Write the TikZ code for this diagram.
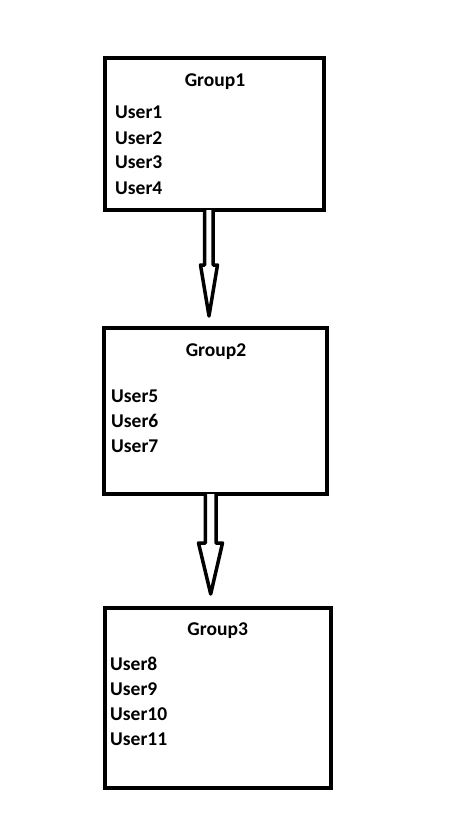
\documentclass[tikz,border=0pt]{standalone}
\usepackage{fontspec}
\setmainfont{Carlito}
\usepackage{tikz}
\usetikzlibrary{positioning}

\tikzset{
  groupbox/.style={draw, line width=4pt, rectangle, outer sep=0pt, inner sep=0pt, anchor=north west},
  grouptitle/.style={anchor=base, inner sep=0pt, font=\fontsize{19.5}{23}\selectfont\bfseries},
  username/.style={anchor=base west, inner sep=0pt, font=\fontsize{19.5}{23}\selectfont\bfseries},
  hollowarrow/.style={draw, line width=3.5pt, line join=round, fill=white}
}

\begin{document}
\begin{tikzpicture}[x=1pt, y=-1pt]
            \useasboundingbox (0,0) rectangle (474,821);

            % Boxes
            \node[groupbox, minimum width=219.5pt, minimum height=151.5pt] (g1) at (104.5,58.5) {};
            \node[groupbox, minimum width=223pt, minimum height=166pt] (g2) at (104.3,328) {};
            \node[groupbox, minimum width=226.3pt, minimum height=180pt] (g3) at (104.7,608) {};

            % Titles
            \node[grouptitle] (t1) at (215,86.7) {Group1};
            \node[grouptitle] (t2) at (216,356.7) {Group2};
            \node[grouptitle] (t3) at (217.7,635.7) {Group3};

            % Users
            \node[username] (u1) at (115,119) {User1};
            \node[username] (u2) at (115,144.3) {User2};
            \node[username] (u3) at (115,169) {User3};
            \node[username] (u4) at (115,194.3) {User4};
            \node[username] (u5) at (111,402.3) {User5};
            \node[username] (u6) at (111,427.3) {User6};
            \node[username] (u7) at (111,452.3) {User7};
            \node[username] (u8) at (110,670.7) {User8};
            \node[username] (u9) at (110,695.7) {User9};
            \node[username] (u10) at (110,720.7) {User10};
            \node[username] (u11) at (110,745.7) {User11};

            % Arrows
            \coordinate (tip1) at (209,316);
            \coordinate (tip2) at (210.7,594);
            \draw[hollowarrow] ([xshift=-9.75pt]g1.south) -- ++(0,55) -- ++(-4,0) -- (tip1)
                -- ++(8.5,-51) -- ++(-4.5,0) -- ++(0,-55);
            \draw[hollowarrow] ([xshift=-10.5pt]g2.south) -- ++(0,49) -- ++(-6.8,0) -- (tip2)
                -- ++(11.8,-51) -- ++(-6.5,0) -- ++(0,-49);
        \end{tikzpicture}
\end{document}
